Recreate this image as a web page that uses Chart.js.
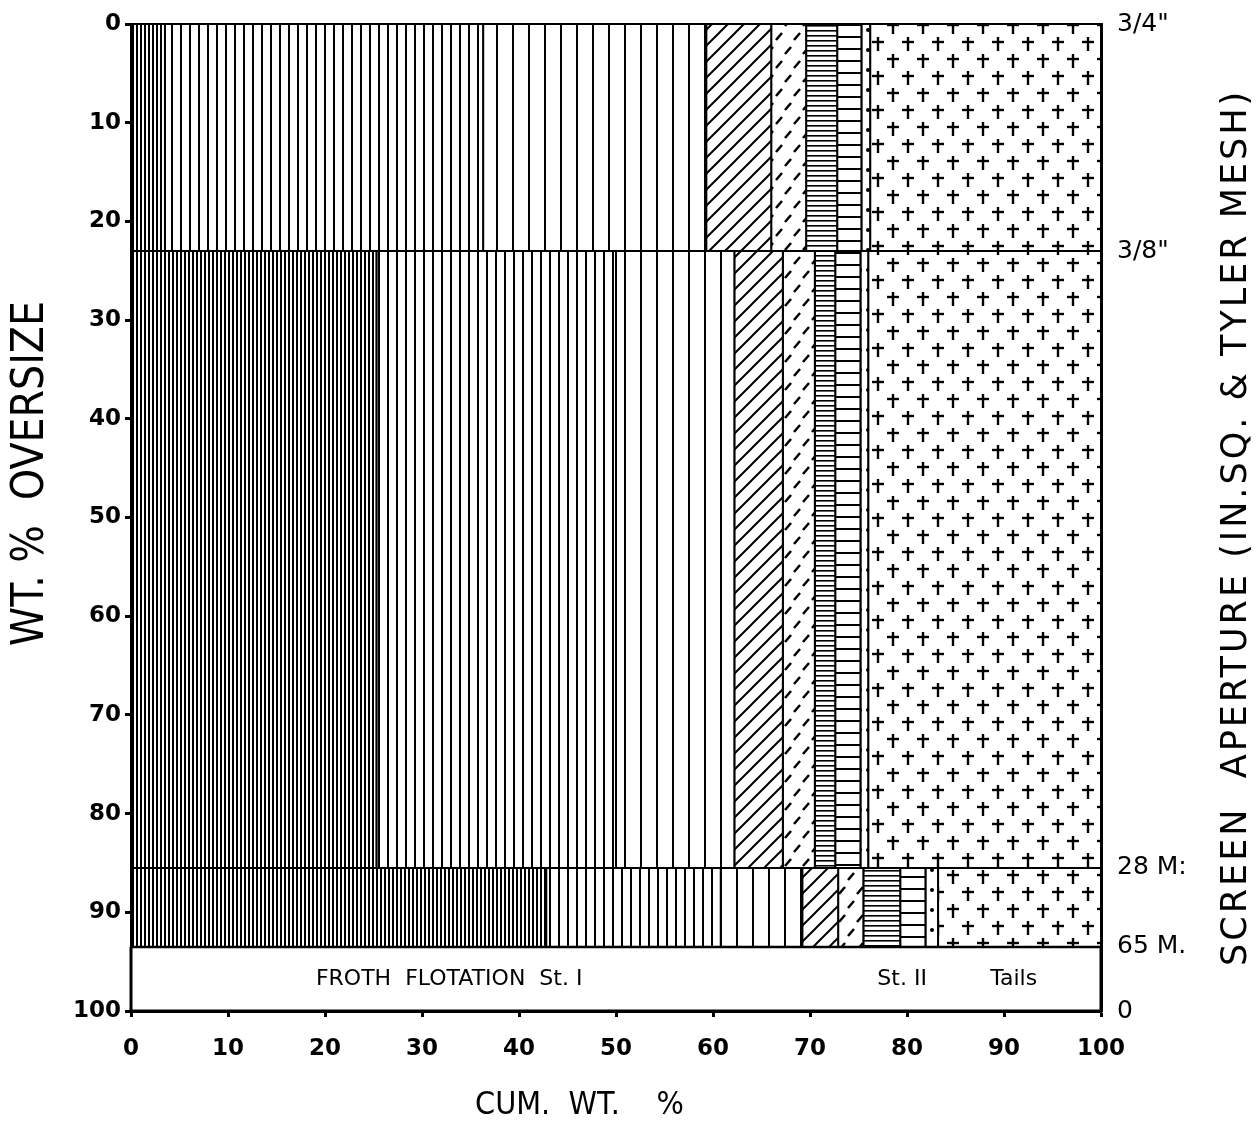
<!DOCTYPE html>
<html>
<head>
<meta charset="utf-8">
<script src="https://cdn.jsdelivr.net/npm/chart.js@4.4.0/dist/chart.umd.min.js"></script>
<style>
  body { margin: 0; background: #fff; }
  #wrap { width: 1257px; height: 1143px; position: relative; }
</style>
</head>
<body>
<div id="wrap"><canvas id="sizeChart"></canvas></div>
<script>
// screen bands on the wt.% oversize axis (3/4" - 3/8", 3/8" - 28 M, 28 M - 65 M)
const bandTop    = [0, 23, 85.5];
const bandBottom = [23, 85.5, 93.5];

// cum. wt.% edges of the product classes inside each band
const band1Edges = [0, 3.5, 36.3, 59.3, 66, 69.6, 72.8, 75.3, 76.2, 100];
const band2Edges = [0, 25.3, 50, 62.2, 67.2, 70.5, 72.6, 75.2, 76, 100];
const band3Edges = [0, 42.8, 60.8, 69.2, 72.9, 75.5, 79.3, 81.9, 83.2, 100];
const classKeys  = ['dense', 'medium', 'sparse', 'diag', 'dash', 'horiz', 'ladder', 'dots', 'cross'];

// flotation strip along the bottom
const stripTop    = 93.5;
const stripSplits = [74.8, 84.2];
const stripLabels = ['FROTH  FLOTATION  St. I', 'St. II', 'Tails'];
const stripLabelX = [32.8, 79.5, 91];

// right hand screen aperture labels
const apertureValues = [0, 23, 85.5, 93.5, 100];
const apertureLabels = ['3/4"', '3/8"', '28 M:', '65 M.', '0'];

const bandEdges = [band1Edges, band2Edges, band3Edges];

function tile(w, h, draw) {
  const c = document.createElement('canvas');
  c.width = w; c.height = h;
  const g = c.getContext('2d');
  g.fillStyle = '#fff';
  g.fillRect(0, 0, w, h);
  g.strokeStyle = '#000';
  g.fillStyle = '#000';
  g.lineWidth = 2;
  draw(g);
  return g.createPattern(c, 'repeat');
}
function seg(g, x1, y1, x2, y2) {
  g.beginPath(); g.moveTo(x1, y1); g.lineTo(x2, y2); g.stroke();
}
function cross(g, x, y) {
  seg(g, x, y - 6, x, y + 8);
  seg(g, x - 6, y - 1, x + 6, y - 1);
}

const patterns = {
  dense:  tile(4, 4, g => g.fillRect(0, 0, 2, 4)),
  medium: tile(9, 4, g => g.fillRect(0, 0, 2, 4)),
  sparse: tile(16, 4, g => g.fillRect(0, 0, 2, 4)),
  diag:   tile(16, 16, g => { seg(g, -2, 18, 18, -2); seg(g, -2, 2, 2, -2); seg(g, 14, 18, 18, 14); }),
  dash:   tile(18, 28, g => { g.lineWidth = 2.5; seg(g, 2, 12, 8, 5); seg(g, 11, 26, 17, 19); }),
  horiz:  tile(4, 5, g => g.fillRect(0, 0, 4, 1.6)),
  ladder: tile(4, 12, g => g.fillRect(0, 0, 4, 2)),
  dots:   tile(8, 20, g => { g.beginPath(); g.arc(4, 10, 2, 0, Math.PI * 2); g.fill(); }),
  cross:  tile(30, 34, g => { g.lineWidth = 2.4; cross(g, 8, 9); cross(g, 23, 26); })
};

function box(x0, x1, y0, y1) {
  return [{x: x0, y: y0}, {x: x1, y: y0}, {x: x1, y: y1}, {x: x0, y: y1}, {x: x0, y: y0}];
}

const datasets = [];
bandEdges.forEach((edges, b) => {
  for (let i = 0; i < edges.length - 1; i++) {
    datasets.push({
      data: box(edges[i], edges[i + 1], bandTop[b], bandBottom[b]),
      backgroundColor: patterns[classKeys[i]],
      borderColor: '#000',
      borderWidth: 2,
      fill: 'shape'
    });
  }
});
datasets.push({
  data: box(0, 100, stripTop, 100),
  backgroundColor: '#fff',
  borderColor: '#000',
  borderWidth: 3,
  fill: 'shape'
});
stripSplits.forEach(v => {
  datasets.push({
    data: [{x: v, y: stripTop}, {x: v, y: 100}],
    borderColor: '#000',
    borderWidth: 2,
    borderDash: [7, 6],
    fill: false
  });
});

const tickFont = {family: '"DejaVu Sans"', size: 23, weight: 'bold'};

const stripText = {
  id: 'stripText',
  afterDatasetsDraw(chart) {
    const {ctx, scales: {x, y}} = chart;
    ctx.save();
    ctx.fillStyle = '#000';
    ctx.textAlign = 'center';
    ctx.textBaseline = 'middle';
    ctx.font = '22px "DejaVu Sans"';
    const yMid = y.getPixelForValue((stripTop + 100) / 2);
    stripLabels.forEach((t, i) => ctx.fillText(t, x.getPixelForValue(stripLabelX[i]), yMid));
    // right axis title reads bottom to top
    ctx.font = '35px "DejaVu Sans"';
    ctx.letterSpacing = '3px';
    ctx.translate(chart.width - 20, y.getPixelForValue(51));
    ctx.rotate(-Math.PI / 2);
    ctx.fillText('SCREEN  APERTURE (IN.SQ. & TYLER MESH)', 0, 0);
    ctx.restore();
  }
};

new Chart(document.getElementById('sizeChart'), {
  type: 'scatter',
  data: {datasets},
  options: {
    responsive: true,
    maintainAspectRatio: false,
    animation: false,
    events: [],
    layout: {padding: {top: 24}},
    elements: {
      point: {radius: 0},
      line: {tension: 0}
    },
    datasets: {scatter: {showLine: true, clip: 4}},
    plugins: {
      legend: {display: false},
      tooltip: {enabled: false}
    },
    scales: {
      x: {
        type: 'linear', min: 0, max: 100,
        ticks: {stepSize: 10, padding: 18, color: '#000', font: tickFont},
        grid: {drawOnChartArea: false, tickLength: 6, tickWidth: 3, color: '#000'},
        border: {color: '#000', width: 3},
        title: {
          display: true, text: 'CUM.  WT.    %        ', color: '#000',
          font: {family: '"DejaVu Sans Condensed", "DejaVu Sans"', size: 32},
          padding: {top: 6, bottom: 18}
        },
        afterFit(s) { s.height = 132; }
      },
      y: {
        type: 'linear', reverse: true, min: 0, max: 100,
        ticks: {stepSize: 10, padding: 4, color: '#000', font: tickFont},
        grid: {drawOnChartArea: false, tickLength: 6, tickWidth: 3, color: '#000'},
        border: {color: '#000', width: 3},
        title: {
          display: true, text: '       WT. %  OVERSIZE', color: '#000',
          font: {family: '"DejaVu Sans Condensed", "DejaVu Sans"', size: 44},
          padding: {top: 5, bottom: 5}
        },
        afterFit(s) { s.width = 131; }
      },
      y2: {
        type: 'linear', position: 'right', reverse: true, min: 0, max: 100,
        afterBuildTicks(s) { s.ticks = apertureValues.map(v => ({value: v})); },
        ticks: {
          autoSkip: false, padding: 8, color: '#000',
          font: {family: '"DejaVu Sans"', size: 25},
          callback: (v, i) => apertureLabels[i]
        },
        grid: {display: false},
        border: {color: '#000', width: 3},
        afterFit(s) { s.width = 156; }
      }
    }
  },
  plugins: [stripText]
});
</script>
</body>
</html>
